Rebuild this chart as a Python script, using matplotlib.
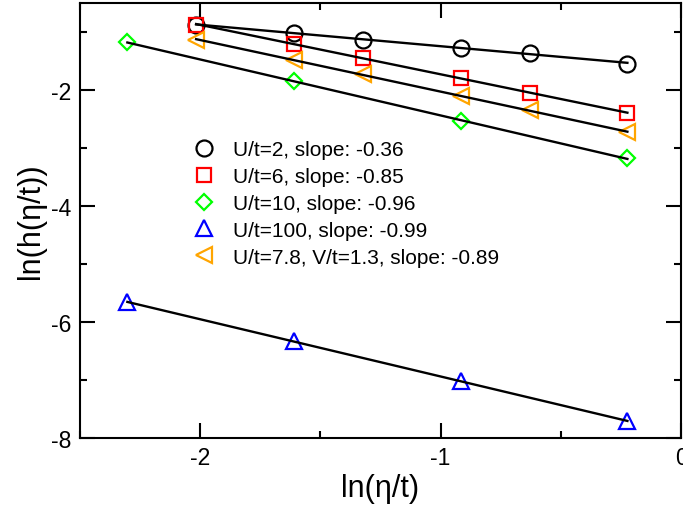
import numpy as np
import matplotlib
matplotlib.use('Agg')
from matplotlib import pyplot as plt
from matplotlib.ticker import MultipleLocator

plt.rcParams['font.family'] = ['Liberation Sans', 'DejaVu Sans']
plt.rcParams['axes.unicode_minus'] = False

# ln(eta/t) values
x6 = [-2.017, -1.609, -1.322, -0.916, -0.629, -0.223]
x4 = [-2.303, -1.609, -0.916, -0.223]

# ln(h(eta/t))
y_u2 = [-0.88, -1.01, -1.13, -1.27, -1.37, -1.545]
y_u6 = [-0.88, -1.20, -1.44, -1.80, -2.045, -2.40]
y_u10 = [-1.18, -1.845, -2.535, -3.18]
y_u100 = [-5.66, -6.33, -7.02, -7.71]
y_uv = [-1.13, -1.49, -1.73, -2.10, -2.35, -2.73]

labels = ['U/t=2, slope: -0.36',
          'U/t=6, slope: -0.85',
          'U/t=10, slope: -0.96',
          'U/t=100, slope: -0.99',
          'U/t=7.8, V/t=1.3, slope: -0.89']

series = [(x6, y_u2, 'o', 'black', 11.5),
          (x6, y_u6, 's', 'red', 10),
          (x4, y_u10, 'D', 'lime', 8),
          (x4, y_u100, '^', 'blue', 11),
          (x6, y_uv, '<', 'orange', 11)]

fig = plt.figure(figsize=(6.83, 5.06), dpi=100)
ax = fig.add_axes([80/683, 67/506, 601/683, 435/506])

for (xs, ys, m, c, ms), lab in zip(series, labels):
    ax.plot(xs, ys, ls='none', marker=m, mfc='none', mec=c, ms=ms, mew=1.6, label=lab)
    # linear fit line between first and last point
    p = np.polyfit(xs, ys, 1)
    xx = np.array([xs[0], xs[-1]])
    ax.plot(xx, np.polyval(p, xx), color='black', lw=1.7, zorder=3)

ax.set_xlim(-2.5, 0)
ax.set_ylim(-8, -0.5)
ax.xaxis.set_major_locator(MultipleLocator(1))
ax.xaxis.set_minor_locator(MultipleLocator(0.5))
ax.yaxis.set_major_locator(MultipleLocator(2))
ax.yaxis.set_minor_locator(MultipleLocator(1))
ax.tick_params(which='both', direction='in', top=True, right=True, width=1.5, labelsize=16.5)
ax.tick_params(which='major', length=11, pad=6)
ax.tick_params(which='minor', length=5)
for s in ax.spines.values():
    s.set_linewidth(1.5)

ax.set_xlabel('ln(\u03b7/t)', fontsize=22, labelpad=3)
ax.set_ylabel('ln(h(\u03b7/t))', fontsize=22, labelpad=4)

ax.legend(loc='upper left', bbox_to_anchor=(194/683, 1 - 141/506), bbox_transform=fig.transFigure,
          frameon=False, fontsize=15, numpoints=1, handlelength=1.0, handletextpad=0.85,
          labelspacing=0.38, borderpad=0, borderaxespad=0)

fig.savefig('out.png', dpi=100)
